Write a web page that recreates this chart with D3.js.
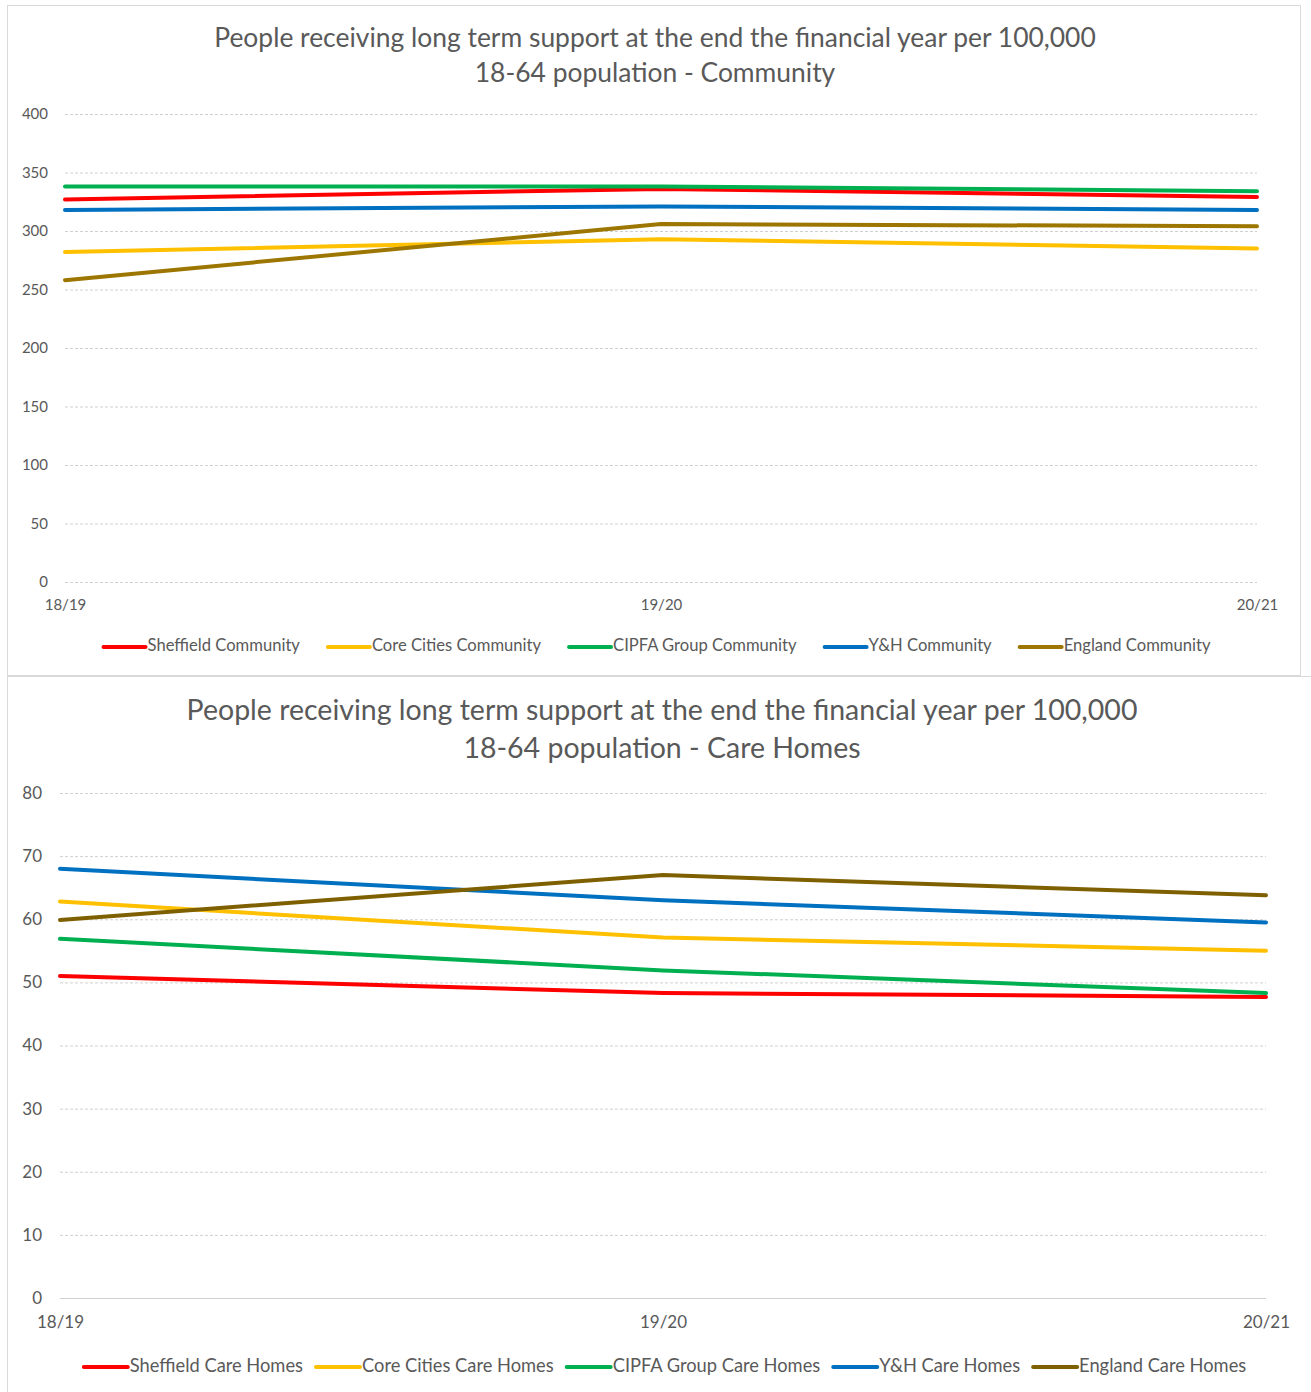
<!DOCTYPE html>
<html><head><meta charset="utf-8">
<script src="https://cdn.jsdelivr.net/npm/d3@7"></script>
<style>
body{margin:0;background:#fff}
svg{display:block}
text{font-family:Lato,"Open Sans",sans-serif;fill:#595959}
</style>
</head><body>
<svg id="c" width="1311" height="1392"></svg>
<script>
// ---------- data ----------
const years = ["18/19", "19/20", "20/21"];

const communitySeries = ["Sheffield Community", "Core Cities Community", "CIPFA Group Community", "Y&H Community", "England Community"];
const sheffieldCommunity = [327, 336, 329];
const coreCitiesCommunity = [282, 293, 285];
const cipfaCommunity = [338, 338, 334];
const yhCommunity = [318, 321, 318];
const englandCommunity = [258, 306, 304];
const communityTicks = [0, 50, 100, 150, 200, 250, 300, 350, 400];

const careSeries = ["Sheffield Care Homes", "Core Cities Care Homes", "CIPFA Group Care Homes", "Y&H Care Homes", "England Care Homes"];
const sheffieldCare = [51.0, 48.3, 47.7];
const coreCitiesCare = [62.8, 57.1, 55.0];
const cipfaCare = [56.9, 51.9, 48.3];
const yhCare = [68.0, 63.0, 59.5];
const englandCare = [59.9, 67.0, 63.8];
const careTicks = [0, 10, 20, 30, 40, 50, 60, 70, 80];

const titleLine1 = "People receiving long term support at the end the financial year per 100,000";
const communityTitle2 = "18-64 population - Community";
const careTitle2 = "18-64 population - Care Homes";

// ---------- drawing ----------
const svg = d3.select("#c");

function fitText(sel, target) {
  const w = sel.node().getComputedTextLength();
  const fs = parseFloat(sel.attr("font-size"));
  sel.attr("font-size", fs * target / w);
}

function drawChart(cfg) {
  const g = svg.append("g");
  g.append("rect").attr("x", cfg.box[0] + 0.5).attr("y", cfg.box[1] + 0.5)
    .attr("width", cfg.box[2]).attr("height", cfg.box[3])
    .attr("fill", "none").attr("stroke", "#d9d9d9").attr("stroke-width", 1);

  const t1 = g.append("text").attr("x", cfg.titleX).attr("y", cfg.titleY[0])
    .attr("text-anchor", "middle").attr("dominant-baseline", "middle")
    .attr("font-size", cfg.titleSize).text(cfg.title[0]);
  fitText(t1, cfg.titleW[0]);
  g.append("text").attr("x", cfg.titleX).attr("y", cfg.titleY[1])
    .attr("text-anchor", "middle").attr("dominant-baseline", "middle")
    .attr("font-size", t1.attr("font-size")).text(cfg.title[1]);

  const x = d3.scalePoint().domain(years).range([cfg.plot.left, cfg.plot.right]);
  const y = d3.scaleLinear().domain([0, d3.max(cfg.ticks)]).range([cfg.plot.bottom, cfg.plot.top]);

  const ya = g.append("g").attr("transform", `translate(${cfg.plot.left},0)`)
    .call(d3.axisLeft(y).tickValues(cfg.ticks).tickSize(-(cfg.plot.right - cfg.plot.left)).tickPadding(cfg.yPad));
  ya.select(".domain").remove();
  ya.selectAll(".tick line").attr("stroke", "#d0d0d0").attr("stroke-dasharray", d => (d === 0 && cfg.solidZero) ? null : "3,2");
  ya.selectAll(".tick text").attr("font-size", cfg.tickSize).attr("fill", "#595959")
    .style("font-family", 'Lato,"Open Sans",sans-serif');

  const xa = g.append("g").attr("transform", `translate(0,${cfg.plot.bottom})`)
    .call(d3.axisBottom(x).tickSize(0).tickPadding(cfg.xPad));
  xa.select(".domain").remove();
  xa.selectAll(".tick text").attr("font-size", cfg.tickSize).attr("fill", "#595959")
    .style("font-family", 'Lato,"Open Sans",sans-serif');

  const line = d3.line().x((d, i) => x(years[i])).y(d => y(d)).curve(cfg.curve);
  cfg.values.forEach((vals, i) => {
    g.append("path").datum(vals).attr("d", line)
      .attr("fill", "none").attr("stroke", cfg.colors[i]).attr("stroke-width", 4)
      .attr("stroke-linecap", "round").attr("stroke-linejoin", "round");
  });

  const lg = g.append("g");
  let cx = 0;
  cfg.names.forEach((n, i) => {
    const it = lg.append("g");
    it.append("line").attr("x1", 0).attr("x2", cfg.swatch).attr("y1", 0).attr("y2", 0)
      .attr("stroke", cfg.colors[i]).attr("stroke-width", 4).attr("stroke-linecap", "round");
    const tx = it.append("text").attr("x", cfg.swatch + 2).attr("y", 0)
      .attr("dominant-baseline", "middle").attr("font-size", cfg.legendSize).text(n);
    const w = cfg.swatch + 2 + tx.node().getComputedTextLength();
    it.attr("transform", `translate(${cx},0)`);
    cx += w + cfg.legendGap;
  });
  const total = cx - cfg.legendGap;
  lg.attr("transform", `translate(${cfg.legendCenter - total / 2},${cfg.legendY})`);
}

const colorsTop = ["#FF0000", "#FFC000", "#00B050", "#0070C0", "#9C7600"];
const colorsBottom = ["#FF0000", "#FFC000", "#00B050", "#0070C0", "#7F6000"];

drawChart({
  box: [7, 5, 1293, 670],
  title: [titleLine1, communityTitle2],
  titleX: 655, titleY: [40, 75], titleSize: 24, titleW: [882],
  plot: {left: 65, right: 1257, top: 114, bottom: 582},
  ticks: communityTicks, yPad: 17, xPad: 17, tickSize: 15,
  names: communitySeries,
  values: [sheffieldCommunity, coreCitiesCommunity, cipfaCommunity, yhCommunity, englandCommunity],
  colors: colorsTop, curve: d3.curveLinear, solidZero: false,
  swatch: 42, legendGap: 28, legendSize: 16.6, legendCenter: 657, legendY: 647
});

drawChart({
  box: [7, 676, 1320, 730],
  title: [titleLine1, careTitle2],
  titleX: 662, titleY: [713, 751], titleSize: 26, titleW: [951],
  plot: {left: 60, right: 1266, top: 793, bottom: 1298},
  ticks: careTicks, yPad: 18, xPad: 18, tickSize: 17,
  names: careSeries,
  values: [sheffieldCare, coreCitiesCare, cipfaCare, yhCare, englandCare],
  colors: colorsBottom, curve: d3.curveLinear, solidZero: true,
  swatch: 44, legendGap: 13, legendSize: 18.3, legendCenter: 665, legendY: 1367
});
</script>
</body></html>
